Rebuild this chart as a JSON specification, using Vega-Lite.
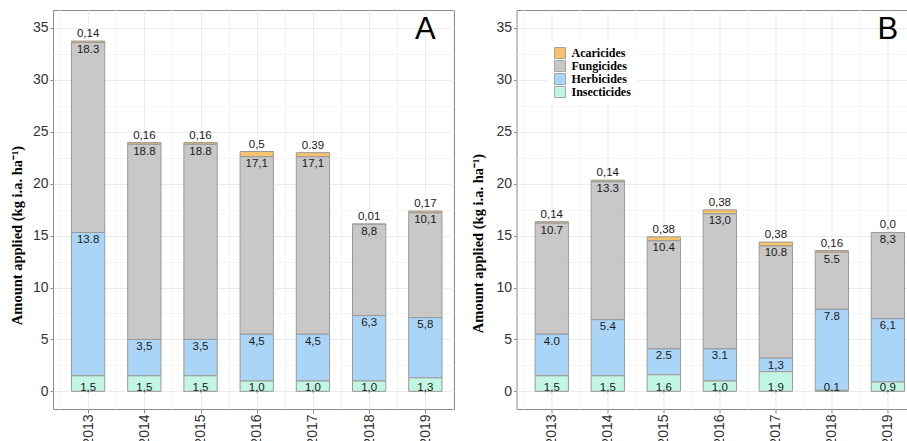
{
  "$schema": "https://vega.github.io/schema/vega-lite/v6.json",
  "background": "white",
  "padding": {"left": 8, "top": 9, "right": 0, "bottom": 0},
  "spacing": 14.5,
  "config": {
    "view": {"stroke": "#8a8a8a", "strokeWidth": 1},
    "axis": {"labelFont": "Liberation Sans", "labelFontSize": 14, "labelColor": "#333333", "tickColor": "#8a8a8a", "domain": false}
  },
  "datasets": {
    "d": [
      {"panel": "A", "year": 2013, "category": "Acaricides", "value": 0.14, "label": "0,14"},
      {"panel": "A", "year": 2013, "category": "Fungicides", "value": 18.3, "label": "18.3"},
      {"panel": "A", "year": 2013, "category": "Herbicides", "value": 13.8, "label": "13.8"},
      {"panel": "A", "year": 2013, "category": "Insecticides", "value": 1.5, "label": "1,5"},
      {"panel": "A", "year": 2014, "category": "Acaricides", "value": 0.16, "label": "0,16"},
      {"panel": "A", "year": 2014, "category": "Fungicides", "value": 18.8, "label": "18.8"},
      {"panel": "A", "year": 2014, "category": "Herbicides", "value": 3.5, "label": "3,5"},
      {"panel": "A", "year": 2014, "category": "Insecticides", "value": 1.5, "label": "1,5"},
      {"panel": "A", "year": 2015, "category": "Acaricides", "value": 0.16, "label": "0,16"},
      {"panel": "A", "year": 2015, "category": "Fungicides", "value": 18.8, "label": "18.8"},
      {"panel": "A", "year": 2015, "category": "Herbicides", "value": 3.5, "label": "3,5"},
      {"panel": "A", "year": 2015, "category": "Insecticides", "value": 1.5, "label": "1,5"},
      {"panel": "A", "year": 2016, "category": "Acaricides", "value": 0.5, "label": "0,5"},
      {"panel": "A", "year": 2016, "category": "Fungicides", "value": 17.1, "label": "17,1"},
      {"panel": "A", "year": 2016, "category": "Herbicides", "value": 4.5, "label": "4,5"},
      {"panel": "A", "year": 2016, "category": "Insecticides", "value": 1.0, "label": "1,0"},
      {"panel": "A", "year": 2017, "category": "Acaricides", "value": 0.39, "label": "0.39"},
      {"panel": "A", "year": 2017, "category": "Fungicides", "value": 17.1, "label": "17,1"},
      {"panel": "A", "year": 2017, "category": "Herbicides", "value": 4.5, "label": "4,5"},
      {"panel": "A", "year": 2017, "category": "Insecticides", "value": 1.0, "label": "1,0"},
      {"panel": "A", "year": 2018, "category": "Acaricides", "value": 0.01, "label": "0,01"},
      {"panel": "A", "year": 2018, "category": "Fungicides", "value": 8.8, "label": "8,8"},
      {"panel": "A", "year": 2018, "category": "Herbicides", "value": 6.3, "label": "6,3"},
      {"panel": "A", "year": 2018, "category": "Insecticides", "value": 1.0, "label": "1,0"},
      {"panel": "A", "year": 2019, "category": "Acaricides", "value": 0.17, "label": "0,17"},
      {"panel": "A", "year": 2019, "category": "Fungicides", "value": 10.1, "label": "10,1"},
      {"panel": "A", "year": 2019, "category": "Herbicides", "value": 5.8, "label": "5,8"},
      {"panel": "A", "year": 2019, "category": "Insecticides", "value": 1.3, "label": "1,3"},
      {"panel": "B", "year": 2013, "category": "Acaricides", "value": 0.14, "label": "0,14"},
      {"panel": "B", "year": 2013, "category": "Fungicides", "value": 10.7, "label": "10.7"},
      {"panel": "B", "year": 2013, "category": "Herbicides", "value": 4.0, "label": "4.0"},
      {"panel": "B", "year": 2013, "category": "Insecticides", "value": 1.5, "label": "1,5"},
      {"panel": "B", "year": 2014, "category": "Acaricides", "value": 0.14, "label": "0,14"},
      {"panel": "B", "year": 2014, "category": "Fungicides", "value": 13.3, "label": "13.3"},
      {"panel": "B", "year": 2014, "category": "Herbicides", "value": 5.4, "label": "5.4"},
      {"panel": "B", "year": 2014, "category": "Insecticides", "value": 1.5, "label": "1,5"},
      {"panel": "B", "year": 2015, "category": "Acaricides", "value": 0.38, "label": "0,38"},
      {"panel": "B", "year": 2015, "category": "Fungicides", "value": 10.4, "label": "10.4"},
      {"panel": "B", "year": 2015, "category": "Herbicides", "value": 2.5, "label": "2.5"},
      {"panel": "B", "year": 2015, "category": "Insecticides", "value": 1.6, "label": "1,6"},
      {"panel": "B", "year": 2016, "category": "Acaricides", "value": 0.38, "label": "0,38"},
      {"panel": "B", "year": 2016, "category": "Fungicides", "value": 13.0, "label": "13,0"},
      {"panel": "B", "year": 2016, "category": "Herbicides", "value": 3.1, "label": "3.1"},
      {"panel": "B", "year": 2016, "category": "Insecticides", "value": 1.0, "label": "1,0"},
      {"panel": "B", "year": 2017, "category": "Acaricides", "value": 0.38, "label": "0,38"},
      {"panel": "B", "year": 2017, "category": "Fungicides", "value": 10.8, "label": "10.8"},
      {"panel": "B", "year": 2017, "category": "Herbicides", "value": 1.3, "label": "1,3"},
      {"panel": "B", "year": 2017, "category": "Insecticides", "value": 1.9, "label": "1,9"},
      {"panel": "B", "year": 2018, "category": "Acaricides", "value": 0.16, "label": "0,16"},
      {"panel": "B", "year": 2018, "category": "Fungicides", "value": 5.5, "label": "5.5"},
      {"panel": "B", "year": 2018, "category": "Herbicides", "value": 7.8, "label": "7.8"},
      {"panel": "B", "year": 2018, "category": "Insecticides", "value": 0.1, "label": "0.1"},
      {"panel": "B", "year": 2019, "category": "Acaricides", "value": 0.0, "label": "0,0"},
      {"panel": "B", "year": 2019, "category": "Fungicides", "value": 8.3, "label": "8,3"},
      {"panel": "B", "year": 2019, "category": "Herbicides", "value": 6.1, "label": "6,1"},
      {"panel": "B", "year": 2019, "category": "Insecticides", "value": 0.9, "label": "0,9"}
    ]
  },
  "resolve": {"legend": {"color": "independent"}},
  "hconcat": [
    {
      "width": 401,
      "height": 399,
      "data": {"name": "d"},
      "transform": [
        {"filter": "datum.panel == 'A'"},
        {"stack": "value", "groupby": ["year"], "sort": [{"field": "category", "order": "descending"}], "as": ["y0", "y1"]}
      ],
      "resolve": {"axis": {"x": "independent", "y": "independent"}},
      "layer": [
        {
          "mark": {"type": "bar", "size": 33.3, "stroke": "#9a9a9a", "strokeWidth": 1, "fillOpacity": 0.9},
          "encoding": {
            "x": {"field": "year", "type": "quantitative", "scale": {"domain": [2012.375, 2019.51], "nice": false, "zero": false, "padding": 0},
              "axis": {"values": [2013, 2014, 2015, 2016, 2017, 2018, 2019], "format": "d", "labelAngle": -90, "tickSize": 4, "labelPadding": 1, "grid": true, "gridColor": "#EBEBEB", "title": null}},
            "y": {"field": "y1", "type": "quantitative", "scale": {"domain": [-1.7, 36.73], "nice": false, "zero": false, "padding": 0},
              "axis": {"values": [0, 5, 10, 15, 20, 25, 30, 35], "tickSize": 3, "labelPadding": 2, "grid": true, "gridColor": "#EBEBEB",
                "title": "Amount applied (kg i.a. ha⁻¹)", "titleFont": "Liberation Serif", "titleFontSize": 14.5, "titleFontWeight": "bold", "titleColor": "black", "titleX": -36, "titleY": 225, "titleBaseline": "middle", "titleAlign": "center", "titleAngle": -90}},
            "y2": {"field": "y0"},
            "color": {"field": "category", "type": "nominal", "scale": {"domain": ["Acaricides", "Fungicides", "Herbicides", "Insecticides"], "range": ["#F6BD5C", "#C2C2C2", "#A2D0F6", "#BBF4DF"]}, "legend": null}
          }
        },
        {
          "transform": [{"filter": "datum.category == 'Acaricides'"}],
          "mark": {"type": "text", "font": "Liberation Sans", "fontSize": 11.5, "color": "#1a1a1a", "baseline": "bottom", "dy": -2},
          "encoding": {
            "x": {"field": "year", "type": "quantitative", "axis": {"values": [2012.5, 2013.5, 2014.5, 2015.5, 2016.5, 2017.5, 2018.5, 2019.5], "orient": "top", "labels": false, "ticks": false, "domain": false, "grid": true, "gridColor": "#F4F4F4", "title": null}},
            "y": {"field": "y1", "type": "quantitative", "axis": {"values": [2.5, 7.5, 12.5, 17.5, 22.5, 27.5, 32.5], "orient": "right", "labels": false, "ticks": false, "domain": false, "grid": true, "gridColor": "#F4F4F4", "title": null}},
            "text": {"field": "label"}
          }
        },
        {
          "transform": [{"filter": "datum.category == 'Fungicides' || datum.category == 'Herbicides'"}],
          "mark": {"type": "text", "font": "Liberation Sans", "fontSize": 11.5, "color": "#1a1a1a", "baseline": "top", "dy": 1.5},
          "encoding": {
            "x": {"field": "year", "type": "quantitative", "axis": null},
            "y": {"field": "y1", "type": "quantitative", "axis": null},
            "text": {"field": "label"}
          }
        },
        {
          "transform": [{"filter": "datum.category == 'Insecticides'"}],
          "mark": {"type": "text", "font": "Liberation Sans", "fontSize": 11.5, "color": "#1a1a1a", "baseline": "alphabetic", "dy": 0},
          "encoding": {
            "x": {"field": "year", "type": "quantitative", "axis": null},
            "y": {"datum": 0, "type": "quantitative", "axis": null},
            "text": {"field": "label"}
          }
        },
        {
          "transform": [{"filter": "datum.category == 'Insecticides' && datum.year == 2019"}],
          "mark": {"type": "text", "text": "A", "font": "Liberation Sans", "fontSize": 31, "color": "black", "baseline": "alphabetic"},
          "encoding": {
            "x": {"datum": 2019, "type": "quantitative", "axis": null},
            "y": {"datum": 33.9, "type": "quantitative", "axis": null}
          }
        }
      ]
    },
    {
      "width": 396,
      "height": 399,
      "data": {"name": "d"},
      "transform": [
        {"filter": "datum.panel == 'B'"},
        {"stack": "value", "groupby": ["year"], "sort": [{"field": "category", "order": "descending"}], "as": ["y0", "y1"]}
      ],
      "resolve": {"axis": {"x": "independent", "y": "independent"}},
      "layer": [
        {
          "mark": {"type": "bar", "size": 33.3, "stroke": "#9a9a9a", "strokeWidth": 1, "fillOpacity": 0.9},
          "encoding": {
            "x": {"field": "year", "type": "quantitative", "scale": {"domain": [2012.37, 2019.44], "nice": false, "zero": false, "padding": 0},
              "axis": {"values": [2013, 2014, 2015, 2016, 2017, 2018, 2019], "format": "d", "labelAngle": -90, "tickSize": 4, "labelPadding": 1, "grid": true, "gridColor": "#EBEBEB", "title": null}},
            "y": {"field": "y1", "type": "quantitative", "scale": {"domain": [-1.7, 36.73], "nice": false, "zero": false, "padding": 0},
              "axis": {"values": [0, 5, 10, 15, 20, 25, 30, 35], "tickSize": 3, "labelPadding": 2, "grid": true, "gridColor": "#EBEBEB",
                "title": "Amount applied (kg i.a. ha⁻¹)", "titleFont": "Liberation Serif", "titleFontSize": 14.5, "titleFontWeight": "bold", "titleColor": "black", "titleX": -38, "titleY": 233, "titleBaseline": "middle", "titleAlign": "center", "titleAngle": -90}},
            "y2": {"field": "y0"},
            "color": {"field": "category", "type": "nominal", "scale": {"domain": ["Acaricides", "Fungicides", "Herbicides", "Insecticides"], "range": ["#F6BD5C", "#C2C2C2", "#A2D0F6", "#BBF4DF"]},
              "legend": {"orient": "none", "legendX": 31, "legendY": 31, "title": null, "fillColor": "white", "padding": 6, "symbolType": "square", "symbolSize": 125, "symbolStrokeColor": "#9a9a9a", "symbolStrokeWidth": 1, "symbolOpacity": 0.9, "labelFont": "Liberation Serif", "labelFontWeight": "bold", "labelFontSize": 12, "labelColor": "black", "labelOffset": 5, "rowPadding": 1, "clipHeight": 12}}
          }
        },
        {
          "transform": [{"filter": "datum.category == 'Acaricides'"}],
          "mark": {"type": "text", "font": "Liberation Sans", "fontSize": 11.5, "color": "#1a1a1a", "baseline": "bottom", "dy": -2},
          "encoding": {
            "x": {"field": "year", "type": "quantitative", "axis": {"values": [2012.5, 2013.5, 2014.5, 2015.5, 2016.5, 2017.5, 2018.5, 2019.5], "orient": "top", "labels": false, "ticks": false, "domain": false, "grid": true, "gridColor": "#F4F4F4", "title": null}},
            "y": {"field": "y1", "type": "quantitative", "axis": {"values": [2.5, 7.5, 12.5, 17.5, 22.5, 27.5, 32.5], "orient": "right", "labels": false, "ticks": false, "domain": false, "grid": true, "gridColor": "#F4F4F4", "title": null}},
            "text": {"field": "label"}
          }
        },
        {
          "transform": [{"filter": "datum.category == 'Fungicides' || datum.category == 'Herbicides'"}],
          "mark": {"type": "text", "font": "Liberation Sans", "fontSize": 11.5, "color": "#1a1a1a", "baseline": "top", "dy": 1.5},
          "encoding": {
            "x": {"field": "year", "type": "quantitative", "axis": null},
            "y": {"field": "y1", "type": "quantitative", "axis": null},
            "text": {"field": "label"}
          }
        },
        {
          "transform": [{"filter": "datum.category == 'Insecticides'"}],
          "mark": {"type": "text", "font": "Liberation Sans", "fontSize": 11.5, "color": "#1a1a1a", "baseline": "alphabetic", "dy": 0},
          "encoding": {
            "x": {"field": "year", "type": "quantitative", "axis": null},
            "y": {"datum": 0, "type": "quantitative", "axis": null},
            "text": {"field": "label"}
          }
        },
        {
          "transform": [{"filter": "datum.category == 'Insecticides' && datum.year == 2019"}],
          "mark": {"type": "text", "text": "B", "font": "Liberation Sans", "fontSize": 31, "color": "black", "baseline": "alphabetic"},
          "encoding": {
            "x": {"datum": 2019, "type": "quantitative", "axis": null},
            "y": {"datum": 33.9, "type": "quantitative", "axis": null}
          }
        }
      ]
    }
  ]
}
